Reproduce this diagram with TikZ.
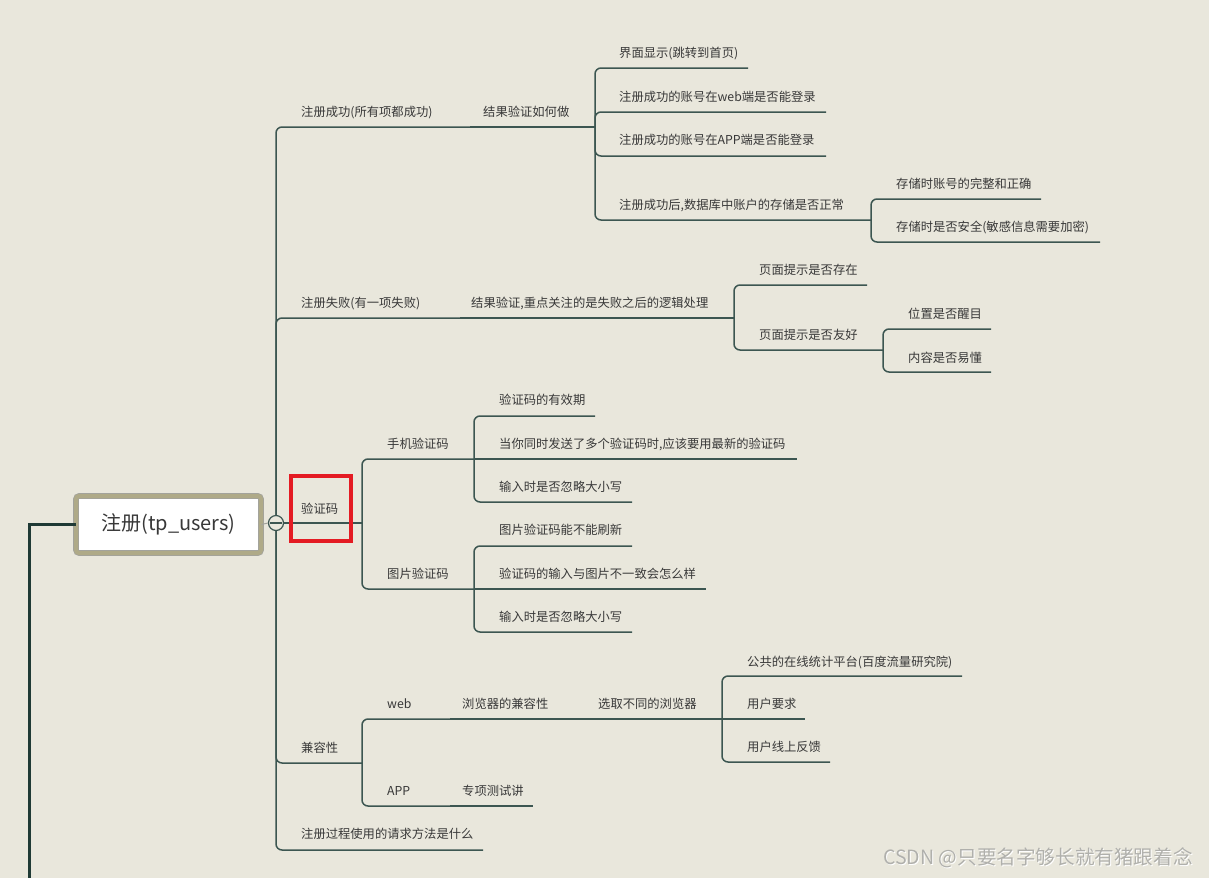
\documentclass[tikz,border=0pt]{standalone}
\usepackage{fontspec}
\setmainfont{Noto Sans CJK SC}
\definecolor{bg}{HTML}{E9E7DC}
\definecolor{lnc}{HTML}{3C5651}
\definecolor{txt}{HTML}{383838}
\definecolor{khaki}{HTML}{AFAA88}
\definecolor{rimc}{HTML}{A3A39C}
\definecolor{redc}{HTML}{E41B23}
\definecolor{lefc}{HTML}{1F3A35}
\definecolor{wm}{HTML}{B0B0AC}
\begin{document}
\begin{tikzpicture}[x=1pt,y=-1pt,
 topic/.style={anchor=west,inner sep=0pt,text height=1.1em,text depth=0.06em,text=txt,font=\fontsize{12.3}{14}\selectfont},
 conn/.style={draw=lnc,line width=1.5pt,rounded corners=6pt},
 rootbox/.style={draw=rimc,double=khaki,double distance=4pt,line width=0.8pt,fill=white,rounded corners=3pt,minimum width=185pt,minimum height=57pt,inner sep=0pt,font=\fontsize{20}{24}\selectfont,text=txt},
 redbox/.style={draw=redc,line width=4pt,inner sep=0pt},
 wmark/.style={anchor=west,inner sep=0pt,font=\fontsize{19.6}{22}\selectfont}
]
\useasboundingbox[fill=bg] (0,0) rectangle (1209,878);

% ---------- text nodes ----------
\node[topic] (A) at (301,111) {注册成功(所有项都成功)};
\node[topic] (A1) at (483,111) {结果验证如何做};
\node[topic] (A11) at (619,52) {界面显示(跳转到首页)};
\node[topic] (A12) at (619,96) {注册成功的账号在web端是否能登录};
\node[topic] (A13) at (619,139) {注册成功的账号在APP端是否能登录};
\node[topic] (A14) at (619,204) {注册成功后,数据库中账户的存储是否正常};
\node[topic] (A141) at (896,183) {存储时账号的完整和正确};
\node[topic] (A142) at (896,226) {存储时是否安全(敏感信息需要加密)};

\node[topic] (B) at (301,302) {注册失败(有一项失败)};
\node[topic] (B1) at (471,302) {结果验证,重点关注的是失败之后的逻辑处理};
\node[topic] (B11) at (759,269) {页面提示是否存在};
\node[topic] (B12) at (759,334) {页面提示是否友好};
\node[topic] (B121) at (908,313) {位置是否醒目};
\node[topic] (B122) at (908,357) {内容是否易懂};

\node[topic] (C) at (301,508) {验证码};
\node[topic] (C1) at (387,443) {手机验证码};
\node[topic] (C11) at (499,399) {验证码的有效期};
\node[topic] (C12) at (499,443) {当你同时发送了多个验证码时,应该要用最新的验证码};
\node[topic] (C13) at (499,486) {输入时是否忽略大小写};
\node[topic] (C2) at (387,573) {图片验证码};
\node[topic] (C21) at (499,529) {图片验证码能不能刷新};
\node[topic] (C22) at (499,573) {验证码的输入与图片不一致会怎么样};
\node[topic] (C23) at (499,616) {输入时是否忽略大小写};

\node[topic] (D) at (301,747) {兼容性};
\node[topic] (D1) at (387,703) {web};
\node[topic] (D11) at (462,703) {浏览器的兼容性};
\node[topic] (D111) at (598,703) {选取不同的浏览器};
\node[topic] (D1111) at (747,661) {公共的在线统计平台(百度流量研究院)};
\node[topic] (D1112) at (747,703) {用户要求};
\node[topic] (D1113) at (747,746) {用户线上反馈};
\node[topic] (D2) at (387,790) {APP};
\node[topic] (D21) at (462,790) {专项测试讲};

\node[topic] (E) at (301,833) {注册过程使用的请求方法是什么};

% ---------- underline end points ----------
\coordinate (cj) at (276,523);
\coordinate (A-e) at (470,127);
\coordinate (A1-e) at (595,127);
\coordinate (A11-e) at (748,68);
\coordinate (A12-e) at (826,112);
\coordinate (A13-e) at (826,156);
\coordinate (A14-e) at (871,220);
\coordinate (A141-e) at (1041,199);
\coordinate (A142-e) at (1100,242);
\coordinate (B-e) at (460,318);
\coordinate (B1-e) at (734,318);
\coordinate (B11-e) at (867,285);
\coordinate (B12-e) at (883,350);
\coordinate (B121-e) at (991,329);
\coordinate (B122-e) at (991,372);
\coordinate (C-e) at (362,523);
\coordinate (C1-e) at (474,459);
\coordinate (C11-e) at (595,416);
\coordinate (C12-e) at (797,459);
\coordinate (C13-e) at (632,502);
\coordinate (C2-e) at (474,589);
\coordinate (C21-e) at (632,546);
\coordinate (C22-e) at (706,589);
\coordinate (C23-e) at (632,632);
\coordinate (D-e) at (362,763);
\coordinate (D1-e) at (450,719);
\coordinate (D11-e) at (585,719);
\coordinate (D111-e) at (722,719);
\coordinate (D1111-e) at (962,676);
\coordinate (D1112-e) at (805,719);
\coordinate (D1113-e) at (830,762);
\coordinate (D2-e) at (450,806);
\coordinate (D21-e) at (533,806);
\coordinate (E-e) at (483,850);

% ---------- connectors ----------
\draw[conn] (cj) |- (A-e);
\draw[conn] (A-e) -- (A1-e);
\draw[conn] (A1-e) |- (A11-e);
\draw[conn] (A1-e) |- (A12-e);
\draw[conn] (A1-e) |- (A13-e);
\draw[conn] (A1-e) |- (A14-e);
\draw[conn] (A14-e) |- (A141-e);
\draw[conn] (A14-e) |- (A142-e);

\draw[conn] (cj) |- (B-e);
\draw[conn] (B-e) -- (B1-e);
\draw[conn] (B1-e) |- (B11-e);
\draw[conn] (B1-e) |- (B12-e);
\draw[conn] (B12-e) |- (B121-e);
\draw[conn] (B12-e) |- (B122-e);

\draw[conn] (cj) -- (C-e);
\draw[conn] (C-e) |- (C1-e);
\draw[conn] (C1-e) |- (C11-e);
\draw[conn] (C1-e) -- (C12-e);
\draw[conn] (C1-e) |- (C13-e);
\draw[conn] (C-e) |- (C2-e);
\draw[conn] (C2-e) |- (C21-e);
\draw[conn] (C2-e) -- (C22-e);
\draw[conn] (C2-e) |- (C23-e);

\draw[conn] (cj) |- (D-e);
\draw[conn] (D-e) |- (D1-e);
\draw[conn] (D1-e) -- (D11-e);
\draw[conn] (D11-e) -- (D111-e);
\draw[conn] (D111-e) |- (D1111-e);
\draw[conn] (D111-e) -- (D1112-e);
\draw[conn] (D111-e) |- (D1113-e);
\draw[conn] (D-e) |- (D2-e);
\draw[conn] (D2-e) -- (D21-e);

\draw[conn] (cj) |- (E-e);

% ---------- root, collapse circle, left line ----------
\node[rootbox] (root) at (168.5,524.5) {注册(tp\_users)};
\node[circle,draw=lnc,fill=bg,line width=1.2pt,minimum size=15pt,inner sep=0pt] (circ) at (cj) {};
\draw[lnc,line width=1.2pt] ([xshift=2.5pt]circ.west) -- ([xshift=-2.5pt]circ.east);
\draw[rimc,line width=1pt] (root.east) -- (circ.west);
\coordinate (lb) at (29,878);
\draw[lefc,line width=3pt] (root.west) -| (lb);

% ---------- red highlight ----------
\node[redbox,minimum width=60.5pt,minimum height=65pt] (rb) at (320.75,508.5) {};

% ---------- watermark ----------
\node[wmark,text=white] (wms) at (884,859) {CSDN @只要名字够长就有猪跟着念};
\node[wmark,text=wm] (wmk) at (883,858) {CSDN @只要名字够长就有猪跟着念};
\end{tikzpicture}
\end{document}
